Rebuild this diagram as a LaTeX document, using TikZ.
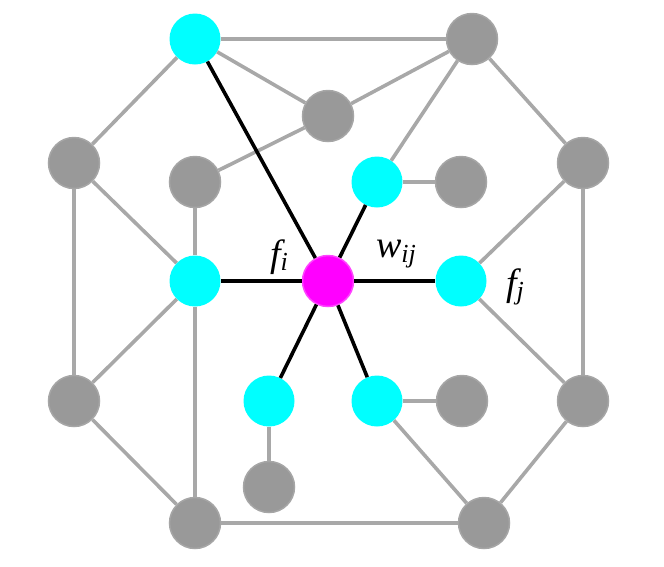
\documentclass[tikz,border=0pt]{standalone}
\usepackage{fontspec}
\setmainfont{Liberation Serif}
\definecolor{nodegray}{HTML}{999999}
\definecolor{edgegray}{HTML}{A8A8A8}
\definecolor{halogray}{HTML}{A6A6A6}
\definecolor{vcyan}{HTML}{00FFFF}
\definecolor{vmagenta}{HTML}{FF00FF}
\definecolor{magentahalo}{HTML}{FF44FF}
\begin{document}
\begin{tikzpicture}[x=1pt,y=-1pt,
  vtx/.style={circle,minimum size=51pt,inner sep=0pt},
  gnode/.style={vtx,fill=nodegray,draw=halogray,line width=1.5pt},
  cnode/.style={vtx,fill=vcyan},
  mnode/.style={vtx,fill=vmagenta,draw=magentahalo,line width=1.5pt},
  gedge/.style={draw=edgegray,line width=3.6pt},
  bedge/.style={draw=black,line width=3.6pt},
  lbl/.style={inner sep=0pt,font=\fontsize{38}{38}\selectfont\itshape}
]
\useasboundingbox (0,0) rectangle (664,566);
% nodes
\node[cnode] (c1) at (195,39) {};
\node[gnode] (g1) at (472,39) {};
\node[gnode] (g2) at (328,116) {};
\node[gnode] (g3) at (74,163) {};
\node[gnode] (g4) at (195,182) {};
\node[cnode] (c2) at (377,182) {};
\node[gnode] (g5) at (461,182) {};
\node[gnode] (g6) at (583,163) {};
\node[cnode] (c3) at (195,281) {};
\node[mnode] (m) at (328,281) {};
\node[cnode] (c4) at (461,281) {};
\node[gnode] (g7) at (74,401) {};
\node[cnode] (c5) at (269,401) {};
\node[cnode] (c6) at (377,401) {};
\node[gnode] (g8) at (462,401) {};
\node[gnode] (g9) at (583,401) {};
\node[gnode] (g10) at (269,487) {};
\node[gnode] (g11) at (195,523) {};
\node[gnode] (g12) at (484,523) {};
% gray edges
\path[gedge] (c1) -- (g1);
\path[gedge] (c1) -- (g2);
\path[gedge] (g1) -- (g2);
\path[gedge] (g4) -- (g2);
\path[gedge] (g1) -- (c2);
\path[gedge] (g1) -- (g6);
\path[gedge] (c1) -- (g3);
\path[gedge] (g3) -- (g7);
\path[gedge] (g3) -- (c3);
\path[gedge] (g4) -- (c3);
\path[gedge] (c3) -- (g11);
\path[gedge] (c3) -- (g7);
\path[gedge] (g7) -- (g11);
\path[gedge] (g11) -- (g12);
\path[gedge] (g12) -- (g9);
\path[gedge] (g9) -- (g6);
\path[gedge] (g6) -- (c4);
\path[gedge] (c4) -- (g9);
\path[gedge] (c2) -- (g5);
\path[gedge] (c6) -- (g8);
\path[gedge] (c6) -- (g12);
\path[gedge] (c5) -- (g10);
% black edges
\path[bedge] (m) -- (c1);
\path[bedge] (m) -- (c3);
\path[bedge] (m) -- (c2);
\path[bedge] (m) -- (c4);
\path[bedge] (m) -- (c5);
\path[bedge] (m) -- (c6);
% labels
\node[lbl] (fi) at (279,257) {f\raisebox{-0.25ex}{\fontsize{26}{26}\selectfont i}};
\node[lbl] (wij) at (396,254) {w\raisebox{-0.25ex}{\fontsize{26}{26}\selectfont ij}};
\node[lbl] (fj) at (515,287) {f\raisebox{-0.25ex}{\fontsize{26}{26}\selectfont j}};
\end{tikzpicture}
\end{document}
